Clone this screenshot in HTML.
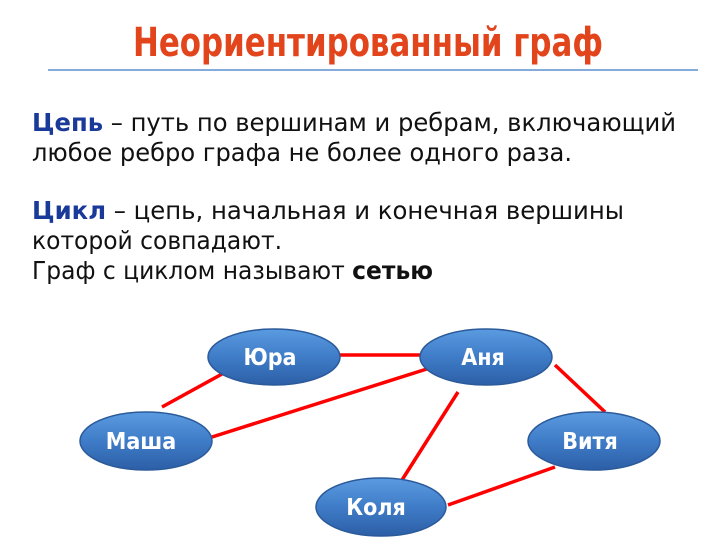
<!DOCTYPE html>
<html><head><meta charset="utf-8"><style>
html,body{margin:0;padding:0;background:#fff;}
svg{display:block;}
</style></head><body>
<svg width="723" height="548" viewBox="0 0 723 548" xmlns="http://www.w3.org/2000/svg">
<defs>
<linearGradient id="g" x1="0" y1="0" x2="0" y2="1">
<stop offset="0" stop-color="#5b9be0"/>
<stop offset="0.5" stop-color="#3f7cc8"/>
<stop offset="1" stop-color="#2c5fa6"/>
</linearGradient>
</defs>
<text x="133" y="56" textLength="470" lengthAdjust="spacingAndGlyphs" font-family="'DejaVu Sans Condensed','DejaVu Sans',sans-serif" font-weight="bold" font-size="40" fill="#e2441c">Неориентированный граф</text>
<line x1="48" y1="70" x2="698" y2="70" stroke="#5b8fd0" stroke-width="1.5"/>
<g font-family="'DejaVu Sans Condensed','DejaVu Sans',sans-serif" font-size="25" fill="#111">
<text x="32" y="131" textLength="644" lengthAdjust="spacingAndGlyphs"><tspan fill="#1a3a9a" font-weight="bold">Цепь</tspan>  – путь по вершинам и ребрам, включающий</text>
<text x="32" y="161" textLength="540" lengthAdjust="spacingAndGlyphs">любое ребро графа не более одного раза.</text>
<text x="32" y="219" textLength="592" lengthAdjust="spacingAndGlyphs"><tspan fill="#1a3a9a" font-weight="bold">Цикл</tspan>  – цепь, начальная и конечная вершины</text>
<text x="32" y="249" textLength="250" lengthAdjust="spacingAndGlyphs">которой совпадают.</text>
<text x="32" y="279" textLength="401" lengthAdjust="spacingAndGlyphs">Граф с циклом называют <tspan font-weight="bold">сетью</tspan></text>
</g>
<g stroke="#ff0000" stroke-width="3.5">
<line x1="340" y1="355" x2="424" y2="355"/>
<line x1="162" y1="407" x2="222" y2="374"/>
<line x1="212" y1="437" x2="430" y2="368"/>
<line x1="458" y1="392" x2="402" y2="480"/>
<line x1="555" y1="365" x2="605" y2="412"/>
<line x1="448" y1="505" x2="555" y2="467"/>
</g>
<g fill="url(#g)" stroke="#2b5a9a" stroke-width="1.5">
<ellipse cx="274" cy="357" rx="66" ry="28"/>
<ellipse cx="486" cy="357" rx="66" ry="28"/>
<ellipse cx="146" cy="441" rx="66" ry="29"/>
<ellipse cx="594" cy="441" rx="66" ry="29"/>
<ellipse cx="381" cy="507" rx="65" ry="29"/>
</g>
<g font-family="'DejaVu Sans Condensed','DejaVu Sans',sans-serif" font-size="23" font-weight="bold" fill="#fff" text-anchor="middle">
<text x="270" y="365">Юра</text>
<text x="483" y="365">Аня</text>
<text x="141" y="449">Маша</text>
<text x="590" y="449">Витя</text>
<text x="376" y="515">Коля</text>
</g>
</svg>
</body></html>
